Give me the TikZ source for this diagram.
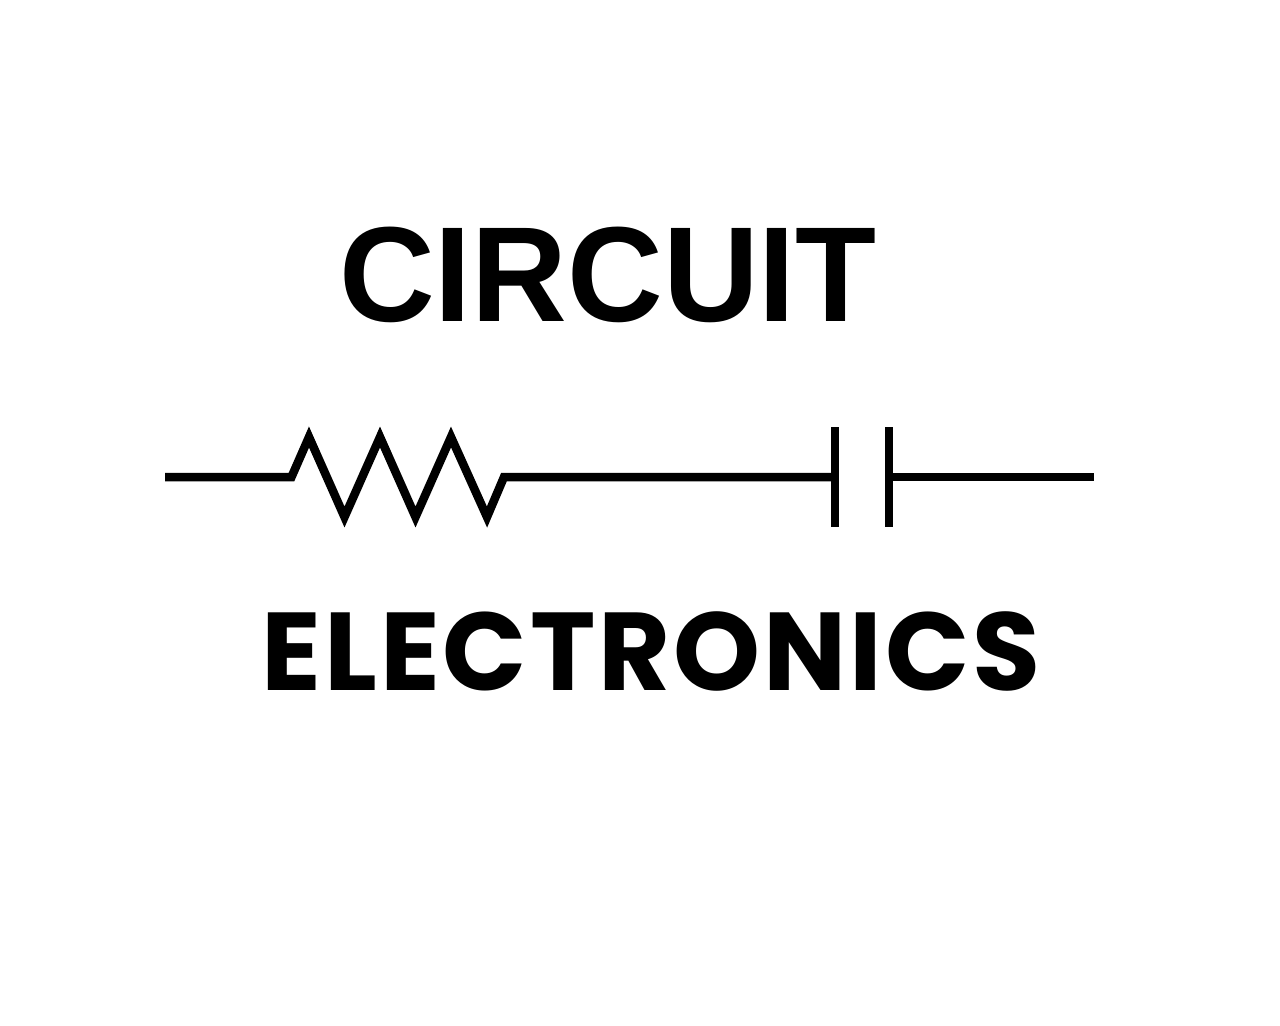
\documentclass[tikz,border=0pt]{standalone}
\usepackage{fontspec}
\newfontfamily\titlefont{Liberation Sans}
\newfontfamily\subtitlefont[LetterSpace=2.6]{Poppins}
\tikzset{
  wire/.style={line width=0.17cm, miter limit=10},
  titletext/.style={inner sep=0pt, anchor=base, xscale=0.98, font=\titlefont\bfseries\fontsize{77}{77}\selectfont},
  subtitletext/.style={inner sep=0pt, anchor=base, font=\subtitlefont\bfseries\fontsize{63}{63}\selectfont}
}

\begin{document}
\begin{tikzpicture}[x=0.02cm, y=-0.02cm]
    \useasboundingbox (0,0) rectangle (1280,1025);

    \node[titletext]    (circuit)     at (608,321) {CIRCUIT};
    \node[subtitletext] (electronics) at (651,690) {ELECTRONICS};

    \coordinate (wirestart) at (165,477);
    \coordinate (plateAtop) at (835,427);
    \coordinate (plateAbot) at (835,527);
    \coordinate (plateBtop) at (889,427);
    \coordinate (plateBbot) at (889,527);
    \coordinate (plateAmid) at (835,477);
    \coordinate (plateBmid) at (889,477);
    \coordinate (wireend)   at (1094,477);

    \draw[wire] (wirestart) -- (291.5,477) -- (309,437) -- (344.5,517) -- (380,437)
      -- (415.5,517) -- (451,437) -- (487,517) -- (504,477) -- (plateAmid);
    \draw[wire] (plateAtop) -- (plateAbot);
    \draw[wire] (plateBtop) -- (plateBbot);
    \draw[wire] (plateBmid) -- (wireend);
\end{tikzpicture}
\end{document}
